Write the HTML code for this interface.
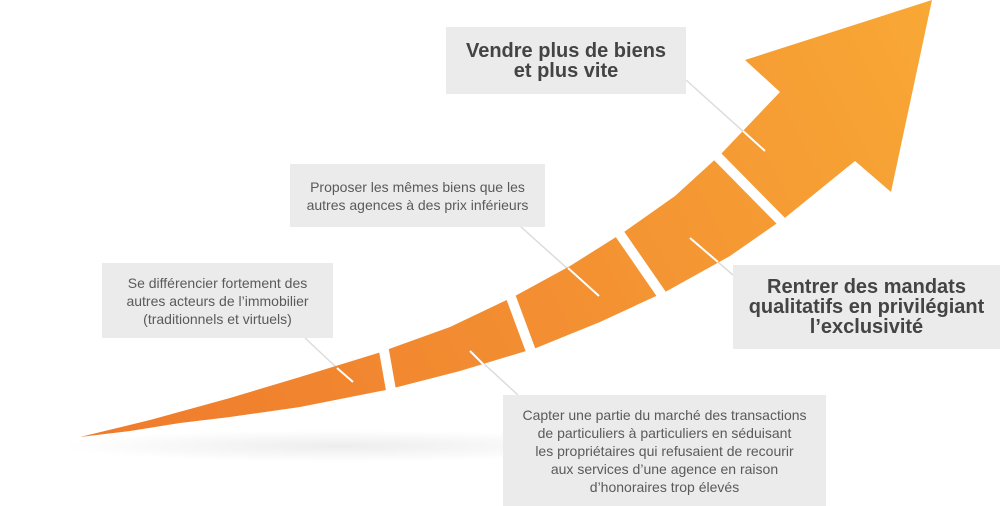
<!DOCTYPE html>
<html><head><meta charset="utf-8">
<style>
html,body{margin:0;padding:0;background:#fff;}
#c{position:relative;width:1000px;height:506px;overflow:hidden;background:#fff;font-family:"Liberation Sans",sans-serif;}
svg{position:absolute;left:0;top:0;}
.b{position:absolute;background:#ebebeb;color:#5a5a5a;text-align:center;box-sizing:border-box;display:flex;align-items:center;justify-content:center;}
.s{font-size:14px;line-height:18px;}
.h{font-size:20px;line-height:20px;font-weight:bold;color:#444;}
</style></head><body><div id="c">
<svg width="1000" height="506" viewBox="0 0 1000 506">
<defs>
<linearGradient id="g" x1="80" y1="437" x2="932" y2="0" gradientUnits="userSpaceOnUse">
<stop offset="0" stop-color="#ef7b2c"/><stop offset="0.5" stop-color="#f38f32"/><stop offset="1" stop-color="#f8a835"/>
</linearGradient>
<radialGradient id="sh" cx="0.5" cy="0.5" r="0.5">
<stop offset="0" stop-color="#000" stop-opacity="0.07"/><stop offset="1" stop-color="#000" stop-opacity="0"/>
</radialGradient>
</defs>
<ellipse cx="340" cy="446" rx="280" ry="16" fill="url(#sh)"/>
<g stroke="#dcdcdc" stroke-width="1.5">
<line x1="305" y1="338" x2="352" y2="382"/>
<line x1="520" y1="226" x2="598" y2="296"/>
<line x1="686" y1="80" x2="765" y2="151"/>
<line x1="690" y1="238" x2="733" y2="275"/>
<line x1="470" y1="351" x2="518" y2="395"/>
</g>
<polygon fill="url(#g)" points="80,437 150,420 230,398 300,377 378,353 450,327 515,296 570,266 624,232 675,196 720,155 780,92 745,60 932,0 891,192 855,161 786,217 730,256 667,291 600,322 536,348 460,371 386,390 300,407 230,417 180,423 130,431 80,437"/>
<g stroke="#fff" stroke-width="10">
<line x1="383" y1="345" x2="392" y2="396"/>
<line x1="509" y1="292" x2="532" y2="354"/>
<line x1="617" y1="230" x2="664" y2="298"/>
<line x1="713" y1="152" x2="782" y2="222"/>
</g>
<g stroke="#fff" stroke-width="2">
<line x1="337" y1="368" x2="353" y2="382"/>
<line x1="568" y1="268" x2="599" y2="296"/>
<line x1="743" y1="131" x2="765" y2="151"/>
<line x1="690" y1="238" x2="718" y2="262"/>
<line x1="470" y1="351" x2="484" y2="365"/>
</g>
</svg>
<div class="b h" style="left:446px;top:27px;width:240px;height:67px;">Vendre plus de biens<br>et plus vite</div>
<div class="b s" style="left:290px;top:164px;width:255px;height:63px;">Proposer les mêmes biens que les<br>autres agences à des prix inférieurs</div>
<div class="b s" style="left:102px;top:263px;width:231px;height:75px;">Se différencier fortement des<br>autres acteurs de l’immobilier<br>(traditionnels et virtuels)</div>
<div class="b h" style="left:733px;top:265px;width:267px;height:84px;">Rentrer des mandats<br>qualitatifs en privilégiant<br>l’exclusivité</div>
<div class="b s" style="left:503px;top:395px;width:323px;height:111px;">Capter une partie du marché des transactions<br>de particuliers à particuliers en séduisant<br>les propriétaires qui refusaient de recourir<br>aux services d’une agence en raison<br>d’honoraires trop élevés</div>
</div></body></html>
